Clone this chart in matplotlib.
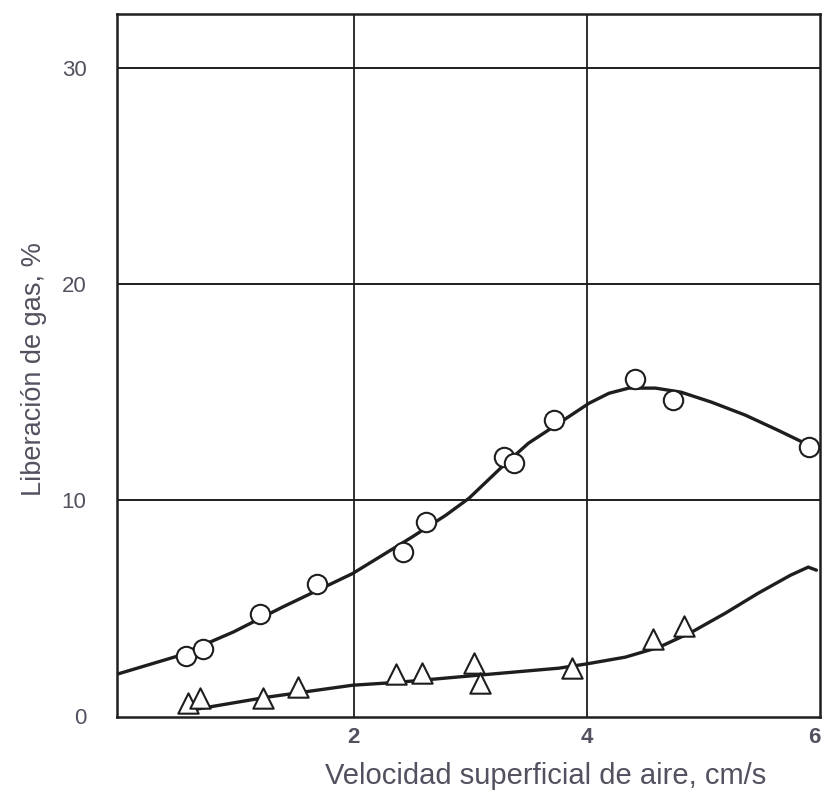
import matplotlib.pyplot as plt
import numpy as np

plt.rcParams['font.family'] = ['Liberation Sans', 'DejaVu Sans']

# ── Data ──────────────────────────────────────────────────────
circ_x = [0.56, 0.71, 1.20, 1.69, 2.42, 2.62, 3.29, 3.38, 3.72, 4.41, 4.74, 5.91]
circ_y = [2.78, 3.10, 4.72, 6.11, 7.59, 8.98, 11.99, 11.71, 13.70, 15.60, 14.63, 12.45]

tri_x = [0.58, 0.68, 1.22, 1.52, 2.36, 2.59, 3.03, 3.08, 3.87, 4.57, 4.83]
tri_y = [0.60, 0.83, 0.83, 1.34, 1.94, 1.99, 2.45, 1.53, 2.22, 3.56, 4.17]

# hand-drawn fitted curves
upper_x = [-0.03, 0.49, 0.97, 1.39, 1.99, 2.22, 2.50, 2.79, 2.99, 3.27, 3.50, 3.76,
           4.02, 4.19, 4.36, 4.59, 4.81, 5.07, 5.36, 5.64, 5.87, 5.98]
upper_y = [1.94, 2.78, 3.90, 5.05, 6.60, 7.36, 8.29, 9.30, 10.09, 11.53, 12.64, 13.56,
           14.49, 14.95, 15.19, 15.19, 15.00, 14.54, 13.94, 13.24, 12.64, 12.40]

lower_x = [0.66, 1.26, 1.99, 2.39, 3.08, 3.76, 3.99, 4.33, 4.62, 4.90, 5.19, 5.47,
           5.75, 5.90, 5.97]
lower_y = [0.33, 0.88, 1.43, 1.57, 1.90, 2.22, 2.41, 2.73, 3.19, 3.89, 4.77, 5.69,
           6.53, 6.90, 6.76]

y_ticks = [0, 10, 20, 30]
x_grid = [2, 4]
x_tick_pos = [2, 4, 5.95]
x_tick_lab = ['2', '4', '6']

TXT = '#55505f'
INK = '#1e1e1e'

fig = plt.figure(figsize=(8.24, 7.96), dpi=100)
ax = fig.add_axes([0.142, 0.099, 0.853, 0.883])

# grid
for yv in y_ticks[1:]:
    ax.axhline(yv, color=INK, lw=1.4, zorder=1)
for xv in x_grid:
    ax.axvline(xv, color=INK, lw=1.3, zorder=1)

# curves
ax.plot(upper_x, upper_y, color=INK, lw=2.4, zorder=2,
        solid_capstyle='round', solid_joinstyle='round')
ax.plot(lower_x, lower_y, color=INK, lw=2.4, zorder=2,
        solid_capstyle='round', solid_joinstyle='round')

# markers
ax.scatter(circ_x, circ_y, s=195, marker='o', facecolors='white',
           edgecolors=INK, linewidths=1.5, zorder=3)
ax.scatter(tri_x, tri_y, s=215, marker='^', facecolors='white',
           edgecolors=INK, linewidths=1.5, zorder=3)

ax.set_xlim(-0.03, 6.0)
ax.set_ylim(-0.05, 32.5)
for s in ax.spines.values():
    s.set_color(INK)
    s.set_linewidth(1.8)

ax.set_yticks(y_ticks)
ax.set_yticklabels([str(v) for v in y_ticks], fontsize=16, color=TXT)
ax.set_xticks(x_tick_pos)
ax.set_xticklabels(x_tick_lab, fontsize=16, color=TXT, fontweight='bold')
ax.tick_params(axis='both', length=0)
ax.tick_params(axis='y', pad=22)
ax.tick_params(axis='x', pad=7)

ax.set_xlabel('Velocidad superficial de aire, cm/s', fontsize=21, color=TXT)
ax.xaxis.set_label_coords(0.61, -0.064)
ax.set_ylabel('Liberación de gas, %', fontsize=19.5, color=TXT)
ax.yaxis.set_label_coords(-0.100, 0.495)

plt.savefig('out.png', dpi=100)
plt.close()
